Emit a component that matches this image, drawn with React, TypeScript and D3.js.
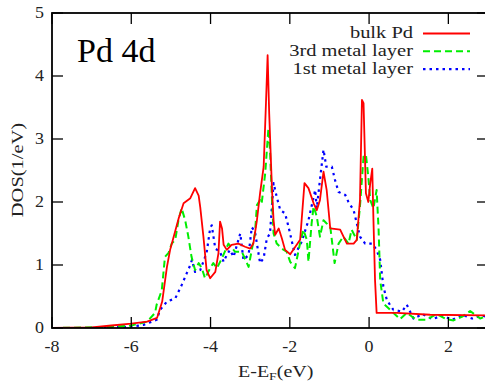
import React from "react";
import * as d3 from "d3";

const xTicks = [-8, -6, -4, -2, 0, 2];
const yTicks = [0, 1, 2, 3, 4, 5];
const seriesNames = ["bulk Pd", "3rd metal layer", "1st metal layer"];

const bulkE = [-8, -7, -6.5, -6, -5.6, -5.35, -5.22, -5.1, -5.02, -4.93, -4.8, -4.68, -4.51, -4.39, -4.3, -4.26, -4.18, -4.1, -4.01, -3.88, -3.8, -3.76, -3.71, -3.67, -3.59, -3.47, -3.3, -3.13, -3.0, -2.92, -2.83, -2.75, -2.66, -2.6, -2.56, -2.52, -2.45, -2.41, -2.37, -2.28, -2.2, -2.12, -1.99, -1.74, -1.63, -1.53, -1.4, -1.32, -1.24, -1.15, -1.07, -0.98, -0.73, -0.56, -0.39, -0.31, -0.23, -0.18, -0.14, -0.08, -0.02, 0.03, 0.08, 0.11, 0.15, 0.19, 0.7, 1.54, 3];
const bulkD = [0, 0.01, 0.04, 0.07, 0.1, 0.16, 0.42, 0.97, 1.24, 1.45, 1.75, 1.98, 2.06, 2.22, 2.1, 1.92, 1.45, 0.92, 0.79, 0.89, 1.19, 1.69, 1.58, 1.32, 1.24, 1.32, 1.34, 1.29, 1.26, 1.34, 1.71, 2.14, 2.56, 3.6, 4.33, 3.4, 2.2, 1.71, 1.48, 1.58, 1.42, 1.24, 1.17, 1.4, 2.3, 2.22, 1.98, 1.87, 2.03, 2.48, 2.19, 1.58, 1.56, 1.34, 1.34, 1.4, 2.03, 3.62, 3.57, 2.14, 2.0, 2.3, 2.53, 1.71, 0.76, 0.24, 0.24, 0.21, 0.2];

const thirdE = [-8, -7, -6.5, -6, -5.6, -5.4, -5.36, -5.23, -5.15, -5.06, -4.98, -4.89, -4.81, -4.73, -4.64, -4.56, -4.48, -4.39, -4.3, -4.22, -4.14, -4.01, -3.93, -3.84, -3.71, -3.55, -3.38, -3.21, -3.04, -2.96, -2.88, -2.83, -2.75, -2.71, -2.62, -2.54, -2.5, -2.45, -2.41, -2.33, -2.2, -2.08, -1.99, -1.87, -1.74, -1.66, -1.57, -1.53, -1.45, -1.4, -1.32, -1.24, -1.15, -1.07, -0.98, -0.87, -0.77, -0.65, -0.52, -0.44, -0.31, -0.23, -0.14, -0.08, -0.02, 0.03, 0.11, 0.19, 0.24, 0.28, 0.36, 0.53, 0.78, 0.95, 1.2, 1.45, 1.7, 1.95, 2.13, 2.35, 2.55, 2.8, 3];
const thirdD = [0, 0.01, 0.02, 0.04, 0.1, 0.24, 0.37, 0.6, 1.13, 1.19, 1.34, 1.4, 1.71, 1.9, 1.71, 1.45, 1.13, 0.92, 1.03, 0.95, 0.79, 0.95, 1.03, 0.95, 1.11, 1.34, 1.21, 1.21, 0.97, 1.24, 1.5, 1.95, 2.03, 1.98, 2.46, 3.17, 2.83, 2.03, 1.5, 1.34, 1.26, 1.21, 1.05, 0.95, 1.35, 1.56, 1.4, 1.05, 1.66, 1.93, 1.77, 1.45, 1.71, 1.66, 1.61, 1.03, 1.34, 1.45, 1.34, 1.56, 1.4, 1.93, 2.72, 2.75, 2.4, 2.03, 1.9, 2.19, 1.56, 0.76, 0.39, 0.29, 0.14, 0.24, 0.13, 0.13, 0.22, 0.14, 0.12, 0.18, 0.27, 0.15, 0.2];

const firstE = [-8, -7, -6.5, -6, -5.69, -5.36, -5.27, -5.1, -4.89, -4.73, -4.6, -4.51, -4.47, -4.39, -4.26, -4.1, -4.01, -3.97, -3.88, -3.76, -3.67, -3.59, -3.51, -3.42, -3.25, -3.17, -3.04, -2.96, -2.88, -2.75, -2.66, -2.58, -2.5, -2.41, -2.33, -2.24, -2.12, -2.03, -1.87, -1.7, -1.53, -1.36, -1.32, -1.24, -1.15, -1.08, -0.94, -0.86, -0.77, -0.6, -0.52, -0.39, -0.31, -0.23, -0.1, 0.07, 0.19, 0.28, 0.36, 0.45, 0.61, 0.83, 0.95, 1.12, 1.35, 1.6, 1.85, 2.1, 2.35, 2.6, 2.85, 3];
const firstD = [0, 0, 0.01, 0.02, 0.05, 0.13, 0.29, 0.42, 0.47, 0.68, 0.87, 1.0, 1.08, 0.89, 0.92, 1.19, 1.58, 1.63, 1.26, 1.21, 1.05, 1.16, 1.24, 1.13, 1.5, 1.08, 1.16, 1.6, 1.53, 1.03, 1.11, 1.42, 1.5, 2.3, 2.08, 1.87, 1.82, 1.6, 1.16, 1.37, 1.71, 2.19, 1.9, 2.35, 2.83, 2.56, 2.56, 2.35, 2.16, 2.11, 2.0, 1.87, 1.66, 1.45, 1.34, 1.34, 1.24, 1.08, 0.66, 0.44, 0.29, 0.26, 0.37, 0.15, 0.22, 0.14, 0.2, 0.13, 0.21, 0.15, 0.2, 0.17];

const W = 485;
const H = 387;
const left = 52;
const right = 488;
const top = 13;
const bottom = 328;

export default function App() {
  const x = d3.scaleLinear().domain([-8, 3]).range([left, right]);
  const y = d3.scaleLinear().domain([0, 5]).range([bottom, top]);
  const mk = (es: number[], ds: number[]) =>
    d3.line<number>().x((_, i) => x(es[i])).y((_, i) => y(ds[i]))(ds.map((_, i) => i)) || "";
  const font = "Liberation Serif";
  const tl = 11;
  const sx = 1.28;
  const styles = [
    { stroke: "#ff0000", dash: "", w: 1.8 },
    { stroke: "#00ee00", dash: "7,4", w: 2 },
    { stroke: "#0000ff", dash: "2.5,4", w: 2.2 },
  ];
  const paths = [mk(bulkE, bulkD), mk(thirdE, thirdD), mk(firstE, firstD)];
  const ts = { fontFamily: font };
  return (
    <svg width={W} height={H} style={{ position: "absolute", left: 0, top: 0 }}>
      <rect width={W} height={H} fill="#fff" />
      <defs>
        <clipPath id="plot">
          <rect x={left} y={top} width={right - left} height={bottom - top} />
        </clipPath>
      </defs>
      <g clipPath="url(#plot)" fill="none">
        {[2, 1, 0].map((k) => (
          <path key={k} d={paths[k]} stroke={styles[k].stroke} strokeWidth={styles[k].w} strokeDasharray={styles[k].dash || undefined} strokeLinejoin="round" />
        ))}
      </g>
      {xTicks.map((t) => (
        <g key={"x" + t}>
          <line x1={x(t)} x2={x(t)} y1={bottom} y2={bottom - tl} stroke="#000" strokeWidth={1.3} />
          <line x1={x(t)} x2={x(t)} y1={top} y2={top + tl} stroke="#000" strokeWidth={1.3} />
          <text transform={`translate(${x(t)},352) scale(1.12,1)`} textAnchor="middle" fontSize={16} fill="#222" style={ts}>{t}</text>
        </g>
      ))}
      {yTicks.map((t) => (
        <g key={"y" + t}>
          <line x1={left} x2={left + tl} y1={y(t)} y2={y(t)} stroke="#000" strokeWidth={1.3} />
          <line x1={right} x2={right - tl} y1={y(t)} y2={y(t)} stroke="#000" strokeWidth={1.3} />
          <text transform={`translate(44,${y(t) + 5}) scale(1.12,1)`} textAnchor="end" fontSize={16} fill="#222" style={ts}>{t}</text>
        </g>
      ))}
      <rect x={left} y={top} width={right - left} height={bottom - top} fill="none" stroke="#000" strokeWidth={1.8} />
      <text x={77} y={62} fontSize={34} fill="#000" style={ts}>Pd 4d</text>
      {seriesNames.map((n, i) => (
        <g key={n}>
          <text transform={`translate(413,${38 + i * 17.8}) scale(${sx},1)`} textAnchor="end" fontSize={16} fill="#222" style={ts}>{n}</text>
          <line x1={423} x2={470} y1={33.5 + i * 17.8} y2={33.5 + i * 17.8} stroke={styles[i].stroke} strokeWidth={styles[i].w} strokeDasharray={styles[i].dash || undefined} />
        </g>
      ))}
      <text transform={`translate(23,170) rotate(-90) scale(${sx},1)`} textAnchor="middle" fontSize={16} fill="#222" style={ts}>DOS(1/eV)</text>
      <text transform={`translate(238,377) scale(1.25,1)`} fontSize={16} fill="#222" style={ts}>
        E-E<tspan fontSize={11} dy={3}>F</tspan><tspan dy={-3}>(eV)</tspan>
      </text>
    </svg>
  );
}
